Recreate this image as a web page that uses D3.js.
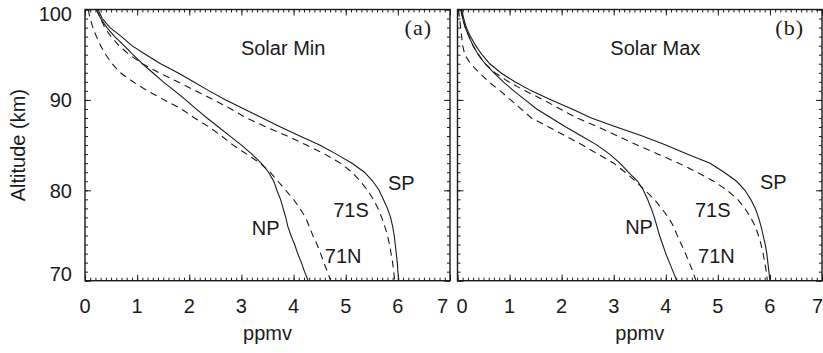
<!DOCTYPE html>
<html>
<head>
<meta charset="utf-8">
<script src="https://cdn.jsdelivr.net/npm/d3@7"></script>
<style>
  body { margin: 0; background: #fff; }
  svg { display: block; font-family: "Liberation Sans", Arial, sans-serif; }
  .curve { fill: none; stroke: #1a1a1a; stroke-width: 1.1; }
  .dashed { stroke-dasharray: 7, 5; }
  .frame { fill: none; stroke: #1a1a1a; stroke-width: 1.4; }
  .tick line { stroke: #1a1a1a; stroke-width: 1; }
  .lbl { font-size: 20px; fill: #1a1a1a; }
  .tag { font-family: "Liberation Serif", "Times New Roman", serif; font-size: 22px; letter-spacing: 1px; fill: #1a1a1a; }
</style>
</head>
<body>
<svg id="chart" width="823" height="353"></svg>
<script>
// altitude levels (km), top to bottom
const altitudes = [100, 99, 98, 97, 96, 95, 94, 93, 92, 91, 90, 89, 88, 87, 86, 85,
    84, 83, 82, 81, 80, 79, 78, 77, 76, 75, 74, 73, 72, 71, 70];

// water vapour mixing ratio (ppmv) - solar minimum
const minSP  = [0.25, 0.33, 0.48, 0.70, 0.90, 1.17, 1.45, 1.78, 2.08, 2.38, 2.70, 3.05, 3.40, 3.75, 4.12, 4.50,
    4.82, 5.12, 5.36, 5.52, 5.64, 5.72, 5.80, 5.86, 5.90, 5.93, 5.95, 5.97, 5.99, 6.00, 6.02];
const min71S = [0.22, 0.30, 0.38, 0.50, 0.65, 0.85, 1.10, 1.42, 1.78, 2.12, 2.47, 2.80, 3.10, 3.48, 3.88, 4.25,
    4.60, 4.90, 5.12, 5.28, 5.42, 5.53, 5.62, 5.69, 5.75, 5.80, 5.84, 5.87, 5.90, 5.92, 5.94];
const minNP  = [0.22, 0.30, 0.42, 0.57, 0.75, 0.92, 1.10, 1.30, 1.50, 1.72, 1.93, 2.13, 2.34, 2.56, 2.78, 3.00,
    3.20, 3.38, 3.52, 3.62, 3.68, 3.75, 3.80, 3.85, 3.89, 3.95, 4.02, 4.08, 4.15, 4.21, 4.28];
const min71N = [0.06, 0.10, 0.15, 0.22, 0.30, 0.40, 0.52, 0.68, 0.92, 1.20, 1.52, 1.85, 2.10, 2.38, 2.62, 2.84,
    3.10, 3.36, 3.55, 3.70, 3.85, 4.00, 4.12, 4.23, 4.30, 4.37, 4.45, 4.52, 4.58, 4.65, 4.71];

// solar maximum
const maxSP  = [0.08, 0.12, 0.17, 0.25, 0.35, 0.47, 0.62, 0.83, 1.10, 1.42, 1.80, 2.20, 2.57, 3.05, 3.55, 4.00,
    4.42, 4.85, 5.12, 5.36, 5.52, 5.63, 5.72, 5.78, 5.83, 5.87, 5.91, 5.94, 5.96, 5.98, 6.00];
const max71S = [0.06, 0.10, 0.15, 0.22, 0.30, 0.40, 0.53, 0.72, 0.98, 1.30, 1.65, 1.97, 2.30, 2.70, 3.08, 3.45,
    3.85, 4.25, 4.60, 4.92, 5.18, 5.38, 5.52, 5.63, 5.72, 5.78, 5.83, 5.87, 5.90, 5.93, 5.95];
const maxNP  = [0.07, 0.10, 0.15, 0.22, 0.30, 0.40, 0.53, 0.70, 0.88, 1.08, 1.30, 1.52, 1.80, 2.08, 2.38, 2.68,
    2.92, 3.12, 3.28, 3.46, 3.57, 3.65, 3.72, 3.78, 3.83, 3.88, 3.94, 4.00, 4.07, 4.14, 4.21];
const max71N = [0.02, 0.04, 0.06, 0.08, 0.10, 0.14, 0.25, 0.42, 0.60, 0.82, 1.02, 1.22, 1.42, 1.75, 2.08, 2.40,
    2.70, 3.00, 3.22, 3.42, 3.60, 3.78, 3.92, 4.05, 4.15, 4.22, 4.30, 4.38, 4.45, 4.52, 4.58];

const seriesNames = ["SP", "71S", "NP", "71N"];
const seriesDashed = [false, true, false, true];

// label anchors in data units [ppmv, km]
const labelPosMin = [[5.81, 80.0], [4.76, 77.1], [3.2, 75.05], [4.6, 71.95]];
const labelPosMax = [[5.81, 80.1], [4.56, 77.1], [3.22, 75.2], [4.62, 71.95]];

const xTicks = [0, 1, 2, 3, 4, 5, 6, 7];
const yTicks = [70, 80, 90, 100];

const panels = [
    { title: "Solar Min", tag: "(a)", values: [minSP, min71S, minNP, min71N], labels: labelPosMin },
    { title: "Solar Max", tag: "(b)", values: [maxSP, max71S, maxNP, max71N], labels: labelPosMax }
];

const svg = d3.select("#chart");
const yTop = 9.5, yBottom = 280.7;
const panelX = [[85, 450], [457.5, 822]];

const y = d3.scaleLinear().domain([70, 100]).range([yBottom, yTop]);
const xMinor = d3.range(0, 7.001, 0.1).map(v => +v.toFixed(1));
const yMinor = d3.range(70, 101, 1);

panels.forEach((p, pi) => {
    const x = d3.scaleLinear().domain([0, 7]).range(panelX[pi]);
    const g = svg.append("g");

    // curves
    const line = d3.line()
        .x(d => x(d[0]))
        .y(d => y(d[1]));
    p.values.forEach((vals, si) => {
        g.append("path")
            .attr("class", "curve" + (seriesDashed[si] ? " dashed" : ""))
            .attr("d", line(vals.map((v, i) => [v, altitudes[i]])));
    });

    // ticks on all four sides, pointing inward
    const addAxis = (axis, tr) => {
        const a = g.append("g").attr("transform", tr).call(axis);
        a.select(".domain").remove();
        a.selectAll("text").remove();
    };
    addAxis(d3.axisBottom(x).tickValues(xMinor).tickSize(-3), `translate(0,${yBottom})`);
    addAxis(d3.axisBottom(x).tickValues(xTicks).tickSize(-6), `translate(0,${yBottom})`);
    addAxis(d3.axisTop(x).tickValues(xMinor).tickSize(-3), `translate(0,${yTop})`);
    addAxis(d3.axisTop(x).tickValues(xTicks).tickSize(-6), `translate(0,${yTop})`);
    addAxis(d3.axisLeft(y).tickValues(yMinor).tickSize(-3), `translate(${panelX[pi][0]},0)`);
    addAxis(d3.axisLeft(y).tickValues(yTicks).tickSize(-6), `translate(${panelX[pi][0]},0)`);
    addAxis(d3.axisRight(y).tickValues(yMinor).tickSize(-3), `translate(${panelX[pi][1]},0)`);
    addAxis(d3.axisRight(y).tickValues(yTicks).tickSize(-6), `translate(${panelX[pi][1]},0)`);

    g.append("rect")
        .attr("class", "frame")
        .attr("x", panelX[pi][0])
        .attr("y", yTop)
        .attr("width", panelX[pi][1] - panelX[pi][0])
        .attr("height", yBottom - yTop);

    // x tick labels; the ones at the panel joins are nudged so they don't collide
    g.selectAll(".xl")
        .data(xTicks)
        .join("text")
        .attr("class", "lbl")
        .attr("x", d => {
            if (d === 7) return x(d) + (pi === 0 ? -2 : 1);
            if (pi === 1 && d === 0) return x(d) - 1;
            return x(d);
        })
        .attr("y", 313)
        .attr("text-anchor", d => {
            if (d === 7) return "end";
            if (pi === 1 && d === 0) return "start";
            return "middle";
        })
        .text(d => d);

    g.append("text")
        .attr("class", "lbl")
        .attr("x", (panelX[pi][0] + panelX[pi][1]) / 2)
        .attr("y", 340)
        .attr("text-anchor", "middle")
        .text("ppmv");

    g.append("text")
        .attr("class", "lbl")
        .attr("x", x(3.8))
        .attr("y", 55)
        .attr("text-anchor", "middle")
        .text(p.title);

    g.append("text")
        .attr("class", "tag")
        .attr("x", panelX[pi][1] - 18)
        .attr("y", 35)
        .attr("text-anchor", "end")
        .text(p.tag);

    seriesNames.forEach((name, si) => {
        g.append("text")
            .attr("class", "lbl")
            .attr("x", x(p.labels[si][0]))
            .attr("y", y(p.labels[si][1]))
            .text(name);
    });
});

// y tick labels (left panel only)
svg.selectAll(".yl")
    .data(yTicks)
    .join("text")
    .attr("class", "lbl")
    .attr("x", 72)
    .attr("y", d => Math.min(Math.max(y(d), 14), 274))
    .attr("dy", "0.36em")
    .attr("text-anchor", "end")
    .text(d => d);

svg.append("text")
    .attr("class", "lbl")
    .attr("transform", `translate(25,${(yTop + yBottom) / 2}) rotate(-90)`)
    .attr("text-anchor", "middle")
    .text("Altitude (km)");
</script>
</body>
</html>
